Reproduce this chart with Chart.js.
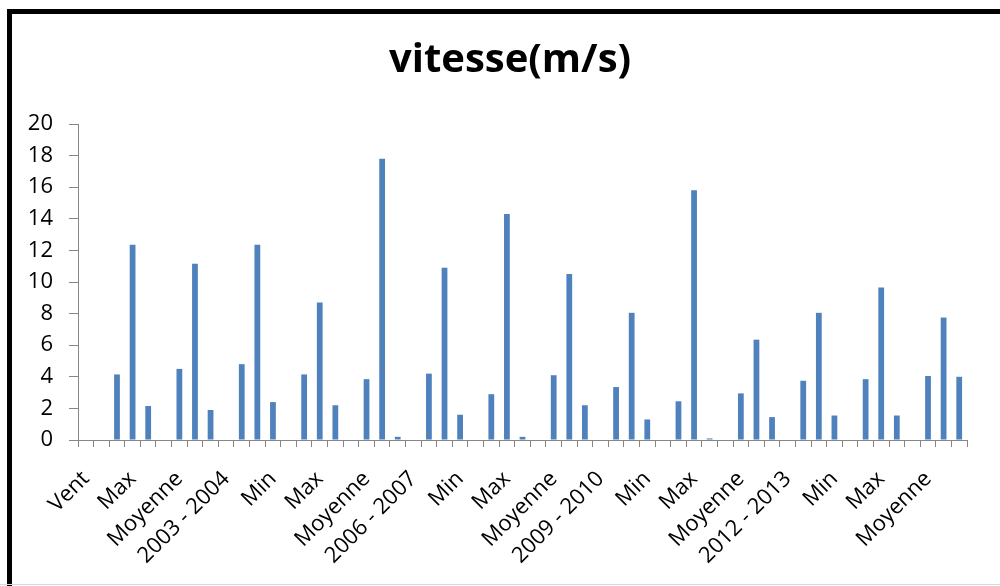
<!DOCTYPE html>
<html>
<head>
<meta charset="utf-8">
<script src="https://cdn.jsdelivr.net/npm/chart.js@4/dist/chart.umd.min.js"></script>
<style>
  html, body { margin: 0; padding: 0; background: #fff; }
  #wrap { position: relative; width: 1000px; height: 586px; overflow: hidden; background: #fff; }
  #c { position: absolute; left: 0; top: 0; }
  #frame { position: absolute; left: 7px; top: 9px; width: 1100px; height: 700px;
           border-left: 5px solid #000; border-top: 5px solid #000; box-sizing: border-box; pointer-events: none; }
  #base { position: absolute; left: 0; top: 584px; width: 1000px; height: 1px; background: #d9d9d9; }
</style>
</head>
<body>
<div id="wrap">
  <canvas id="c" width="1000" height="586"></canvas>
  <div id="frame"></div>
  <div id="base"></div>
</div>
<script>
// Wind speed per season: mean, maximum and minimum (m/s)
const chartTitle = 'vitesse(m/s)';
const firstLabel = 'Vent';
const years = ['2001 - 2002', '2002 - 2003', '2003 - 2004', '2004 - 2005', '2005 - 2006',
               '2006 - 2007', '2007 - 2008', '2008 - 2009', '2009 - 2010', '2010 - 2011',
               '2011 - 2012', '2012 - 2013', '2013 - 2014', '2014 - 2015'];
const statNames = ['Moyenne', 'Max', 'Min'];
const moyenne = [4.15, 4.5, 4.8, 4.15, 3.85, 4.2, 2.9, 4.1, 3.35, 2.45, 2.95, 3.75, 3.85, 4.05];
const maxi    = [12.35, 11.15, 12.35, 8.7, 17.8, 10.9, 14.3, 10.5, 8.05, 15.8, 6.35, 8.05, 9.65, 7.75];
const mini    = [2.15, 1.9, 2.4, 2.2, 0.2, 1.6, 0.2, 2.2, 1.3, 0.1, 1.45, 1.55, 1.55, 4.0];
const labelStep = 3; // one category label drawn out of three

// Category list: header, then each season followed by its three statistics
const categories = [firstLabel];
const values = [null];
years.forEach((y, i) => {
  categories.push(y, statNames[0], statNames[1], statNames[2]);
  values.push(null, moyenne[i], maxi[i], mini[i]);
});

const font = 'Open Sans';
const axisGrey = '#868686';

// Title centred on the whole frame rather than on the plot area
const frameTitle = {
  id: 'frameTitle',
  afterDraw(chart) {
    const ctx = chart.ctx;
    ctx.save();
    ctx.font = `bold 40px "${font}"`;
    ctx.fillStyle = '#000';
    ctx.textAlign = 'center';
    ctx.textBaseline = 'alphabetic';
    ctx.fillText(chartTitle, 510, 72);
    ctx.restore();
  }
};

new Chart(document.getElementById('c'), {
  type: 'bar',
  data: {
    labels: categories,
    datasets: [{
      label: chartTitle,
      data: values,
      backgroundColor: '#4F81BD',
      borderWidth: 0,
      barPercentage: 0.37,
      categoryPercentage: 1.0
    }]
  },
  plugins: [frameTitle],
  options: {
    responsive: false,
    animation: false,
    layout: { padding: { left: 0, right: 33, top: 124, bottom: 0 } },
    plugins: {
      legend: { display: false },
      tooltip: { enabled: false },
      title: { display: false }
    },
    scales: {
      x: {
        offset: true,
        grid: { display: true, drawOnChartArea: false, drawTicks: true, tickLength: 7,
                color: axisGrey, offset: true },
        border: { display: true, color: axisGrey, width: 1 },
        ticks: {
          autoSkip: false,
          maxRotation: 45,
          minRotation: 45,
          padding: 19,
          color: '#000',
          font: { family: font, size: 22 },
          callback: function (value, index) {
            return index % labelStep === 0 ? this.getLabelForValue(value) : '';
          }
        },
        afterFit: (s) => { s.height = 146; }
      },
      y: {
        min: 0,
        max: 20,
        grid: { display: true, drawOnChartArea: false, drawTicks: true, tickLength: 9, color: axisGrey },
        border: { display: true, color: axisGrey, width: 1 },
        ticks: {
          stepSize: 2,
          autoSkip: false,
          padding: 16,
          color: '#000',
          font: { family: font, size: 22, lineHeight: 1 }
        },
        afterFit: (s) => { s.width = 78; }
      }
    }
  }
});
</script>
</body>
</html>
